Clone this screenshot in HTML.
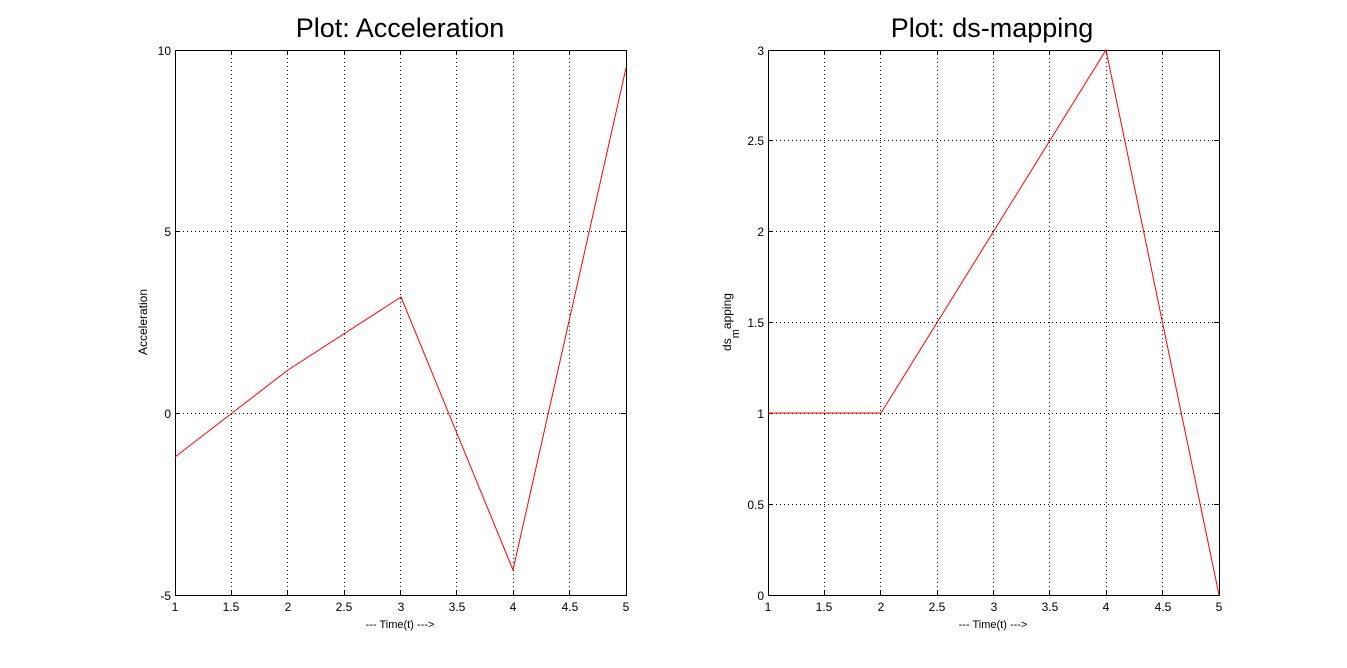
<!DOCTYPE html>
<html><head><meta charset="utf-8"><style>body{margin:0;background:#fff}svg{display:block}text{font-family:"Liberation Sans",Arial,sans-serif;fill:#000}</style></head>
<body>
<svg width="1347" height="668" viewBox="0 0 1347 668">
<g stroke="#000" stroke-width="1" stroke-dasharray="1,3" fill="none">
<path d="M231.5 50V595M287.5 50V595M344.5 50V595M400.5 50V595M456.5 50V595M513.5 50V595M569.5 50V595M175 231.5H626M175 413.5H626"/>
<path d="M824.5 50V595M880.5 50V595M937.5 50V595M993.5 50V595M1049.5 50V595M1106.5 50V595M1162.5 50V595M768 140.5H1219M768 231.5H1219M768 322.5H1219M768 413.5H1219M768 504.5H1219"/>
</g>
<g stroke="#000" fill="none">
<rect x="175.5" y="50.5" width="451" height="545"/>
<rect x="768.5" y="50.5" width="451" height="545"/>
<path d="M231.5 595v-5M287.5 595v-5M344.5 595v-5M400.5 595v-5M456.5 595v-5M513.5 595v-5M569.5 595v-5M231.5 50v5M287.5 50v5M344.5 50v5M400.5 50v5M456.5 50v5M513.5 50v5M569.5 50v5M175 231.5h5M175 413.5h5M626 231.5h-5M626 413.5h-5"/>
<path d="M824.5 595v-5M880.5 595v-5M937.5 595v-5M993.5 595v-5M1049.5 595v-5M1106.5 595v-5M1162.5 595v-5M824.5 50v5M880.5 50v5M937.5 50v5M993.5 50v5M1049.5 50v5M1106.5 50v5M1162.5 50v5M768 140.5h5M768 231.5h5M768 322.5h5M768 413.5h5M768 504.5h5M1219 140.5h-5M1219 231.5h-5M1219 322.5h-5M1219 413.5h-5M1219 504.5h-5"/>
</g>
<polyline fill="none" stroke="#f00" stroke-width="1" points="175,457 288,370 401,297 513,570 626,68"/>
<polyline fill="none" stroke="#f00" stroke-width="1" points="768,413 881,413 1106,50 1219,595"/>
<g font-size="12" text-anchor="middle">
<text x="175" y="611">1</text><text x="231" y="611">1.5</text><text x="288" y="611">2</text><text x="344" y="611">2.5</text><text x="401" y="611">3</text><text x="457" y="611">3.5</text><text x="513" y="611">4</text><text x="570" y="611">4.5</text><text x="626" y="611">5</text>
<text x="768" y="611">1</text><text x="824" y="611">1.5</text><text x="881" y="611">2</text><text x="937" y="611">2.5</text><text x="994" y="611">3</text><text x="1050" y="611">3.5</text><text x="1106" y="611">4</text><text x="1163" y="611">4.5</text><text x="1219" y="611">5</text>
<text x="400" y="628" font-size="11">--- Time(t) ---&gt;</text>
<text x="993" y="628" font-size="11">--- Time(t) ---&gt;</text>
</g>
<g font-size="12" text-anchor="end">
<text x="171" y="55">10</text><text x="171" y="236">5</text><text x="171" y="418">0</text><text x="171" y="600">-5</text>
<text x="764" y="55">3</text><text x="764" y="145">2.5</text><text x="764" y="236">2</text><text x="764" y="327">1.5</text><text x="764" y="418">1</text><text x="764" y="509">0.5</text><text x="764" y="600">0</text>
</g>
<text transform="translate(147,322) rotate(-90)" font-size="12" text-anchor="middle">Acceleration</text>
<text transform="translate(731,322) rotate(-90)" font-size="12" text-anchor="middle">ds<tspan font-size="11" dy="8">m</tspan><tspan dy="-8">apping</tspan></text>
<g font-size="27" text-anchor="middle">
<text x="400" y="37">Plot: Acceleration</text>
<text x="992" y="37">Plot: ds-mapping</text>
</g>
</svg>
</body></html>
